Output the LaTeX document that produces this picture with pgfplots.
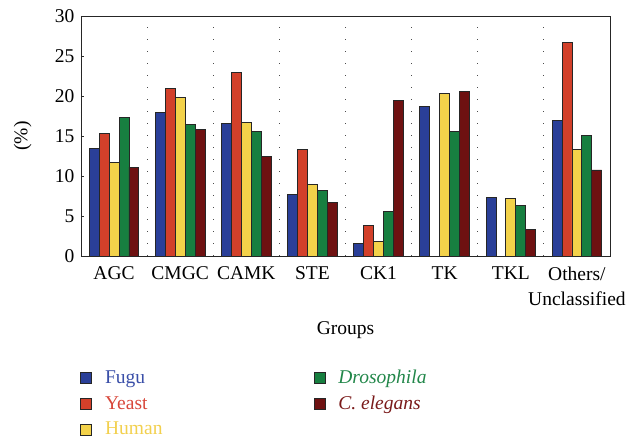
\documentclass[border=0pt]{standalone}
\usepackage{fontspec}
\setmainfont{Liberation Serif}
\usepackage{pgfplots}
\usepackage{pgfplotstable}
\pgfplotsset{compat=1.18}
\definecolor{cfugu}{HTML}{2A3F98}
\definecolor{cyeast}{HTML}{D2402A}
\definecolor{chuman}{HTML}{F3D24A}
\definecolor{cdros}{HTML}{177F40}
\definecolor{ccel}{HTML}{6E1111}
\definecolor{tfugu}{HTML}{3A4FA8}
\definecolor{tyeast}{HTML}{D8473A}
\definecolor{thuman}{HTML}{F2D04E}
\definecolor{tdros}{HTML}{22874A}
\definecolor{tcel}{HTML}{7A1A1A}
\pgfplotstableread{
x fugu yeast human dros cel
0 13.5 15.3 11.7 17.35 11.1
1 17.9 21.0 19.85 16.5 15.85
2 16.6 22.9 16.7 15.6 12.5
3 7.65 13.35 8.95 8.2 6.65
4 1.55 3.85 1.8 5.55 19.45
5 18.7 nan 20.3 15.55 20.6
6 7.35 nan 7.15 6.35 3.3
7 16.95 26.65 13.3 15.05 10.75
}\datatable
\newcommand{\myfont}{\fontsize{19.5}{25}\selectfont}
\begin{document}
\myfont
\begin{tikzpicture}
\begin{axis}[
  width=529pt, height=240pt, scale only axis,
  xmin=-0.5, xmax=7.5, ymin=0, ymax=30,
  ybar=0pt, bar width=0.15,
  xtick={0,...,7},
  xticklabels={AGC,CMGC,CAMK,STE,CK1,TK,TKL,{Others/\\Unclassified}},
  xticklabel style={align=center, font=\myfont, yshift=-4pt},
  major x tick style={draw=none},
  extra x ticks={0.5,1.5,...,6.5},
  extra x tick labels={},
  extra x tick style={grid=major, major grid style={black!70, dash pattern=on 1.2pt off 10.8pt, line width=0.9pt}, major tick length=0pt},
  ytick={0,5,...,30},
  minor y tick num=4,
  ytick pos=left,
  tick align=inside,
  major tick length=3pt, minor tick length=1.5pt,
  yticklabel style={font=\myfont},
  /pgf/number format/assume math mode=true,
  axis line style={black!85, line width=0.8pt},
  every tick/.style={black!85, line width=0.6pt},
  ylabel={(\%)},
  ylabel style={at={(axis description cs:-0.11,0.5)}, anchor=center, font=\myfont},
  xlabel={Groups},
  xlabel style={at={(axis description cs:0.5,-0.308)}, anchor=center, font=\myfont},
  legend style={at={(axis description cs:0,0)}, anchor=north west, xshift=-4pt, yshift=-110pt, draw=none, fill=none,
    font=\myfont, row sep=5.5pt,
    /tikz/every odd column/.append style={column sep=11pt},
    /tikz/every even column/.append style={column sep=149pt}},
  legend columns=3, transpose legend,
  legend cell align=left,
  legend image code/.code={\draw[#1, draw=black!85, line width=0.9pt] (0pt,-5.5pt) rectangle (11pt,5.5pt);},
  every axis plot/.append style={draw=black!85, line width=0.8pt},
]
\addplot[fill=cfugu] table[x=x,y=fugu] {\datatable};
\addlegendentry{\textcolor{tfugu}{Fugu}}
\addplot[fill=cyeast] table[x=x,y=yeast] {\datatable};
\addlegendentry{\textcolor{tyeast}{Yeast}}
\addplot[fill=chuman] table[x=x,y=human] {\datatable};
\addlegendentry{\textcolor{thuman}{Human}}
\addplot[fill=cdros] table[x=x,y=dros] {\datatable};
\addlegendentry{\textcolor{tdros}{\itshape Drosophila}}
\addplot[fill=ccel] table[x=x,y=cel] {\datatable};
\addlegendentry{\textcolor{tcel}{\itshape C. elegans}}
\end{axis}
\pgfresetboundingbox
\path[use as bounding box] ([shift={(-81pt,-185pt)}]current axis.south west) rectangle ([shift={(546pt,256pt)}]current axis.south west);
\end{tikzpicture}
\end{document}
